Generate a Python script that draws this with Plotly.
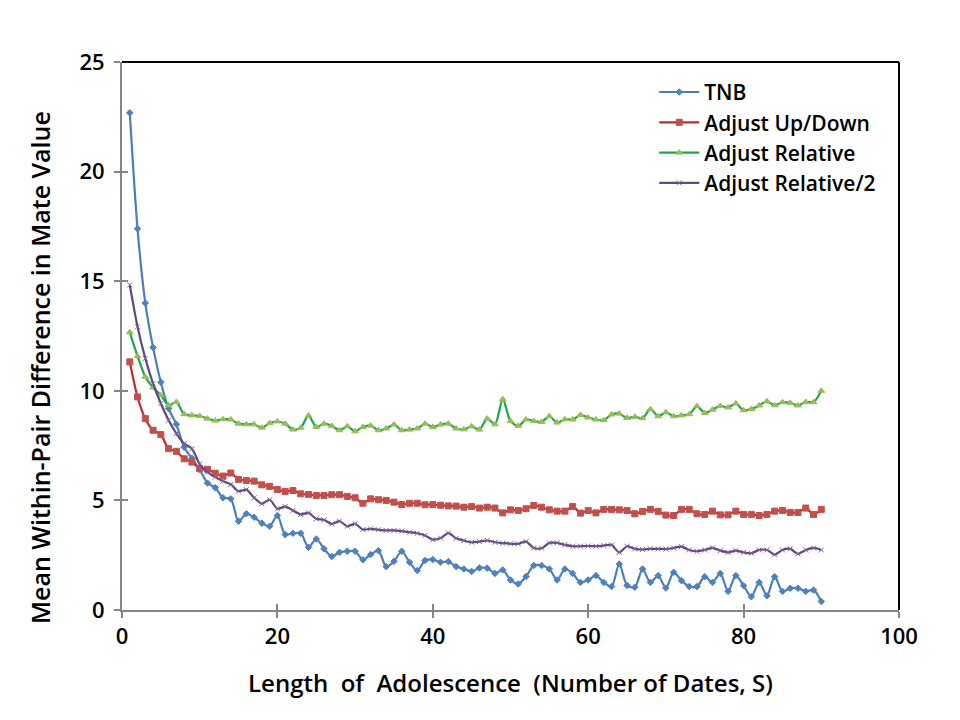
import plotly.graph_objects as go

x_dates = list(range(1, 91))

tnb = [22.68, 17.39, 14.00, 11.98, 10.39, 9.19, 8.47, 7.43, 6.92, 6.40,
       5.79, 5.58, 5.12, 5.07, 4.05, 4.39, 4.23, 3.96, 3.82, 4.31,
       3.44, 3.50, 3.50, 2.86, 3.24, 2.79, 2.44, 2.63, 2.68, 2.68,
       2.29, 2.53, 2.71, 1.98, 2.22, 2.68, 2.18, 1.80, 2.26, 2.30,
       2.18, 2.21, 1.98, 1.87, 1.76, 1.92, 1.91, 1.67, 1.83, 1.37,
       1.19, 1.53, 2.03, 2.03, 1.87, 1.37, 1.87, 1.67, 1.26, 1.37,
       1.57, 1.26, 1.07, 2.10, 1.12, 1.04, 1.87, 1.26, 1.57, 1.00,
       1.72, 1.34, 1.07, 1.07, 1.52, 1.26, 1.67, 0.85, 1.57, 1.11,
       0.61, 1.26, 0.65, 1.52, 0.85, 0.99, 0.99, 0.85, 0.91, 0.39]

adjust_updown = [11.32, 9.72, 8.73, 8.20, 8.00, 7.36, 7.24, 6.90, 6.75, 6.45,
                 6.42, 6.24, 6.11, 6.25, 5.96, 5.91, 5.88, 5.71, 5.64, 5.50,
                 5.41, 5.45, 5.30, 5.27, 5.23, 5.23, 5.26, 5.26, 5.18, 5.12,
                 4.87, 5.07, 5.03, 5.00, 4.92, 4.81, 4.87, 4.87, 4.80, 4.81,
                 4.78, 4.75, 4.74, 4.69, 4.72, 4.65, 4.69, 4.65, 4.43, 4.57,
                 4.54, 4.62, 4.77, 4.69, 4.57, 4.51, 4.51, 4.72, 4.42, 4.54,
                 4.43, 4.59, 4.59, 4.57, 4.54, 4.39, 4.50, 4.59, 4.50, 4.33,
                 4.31, 4.59, 4.59, 4.39, 4.36, 4.51, 4.34, 4.34, 4.51, 4.36,
                 4.36, 4.31, 4.36, 4.51, 4.54, 4.45, 4.45, 4.65, 4.36, 4.59]

adjust_relative = [12.67, 11.58, 10.64, 10.15, 9.80, 9.34, 9.49, 8.93, 8.88, 8.85,
                   8.73, 8.64, 8.70, 8.69, 8.50, 8.47, 8.47, 8.32, 8.53, 8.60,
                   8.50, 8.23, 8.32, 8.87, 8.35, 8.50, 8.40, 8.20, 8.38, 8.15,
                   8.35, 8.41, 8.20, 8.28, 8.46, 8.20, 8.23, 8.28, 8.50, 8.35,
                   8.46, 8.50, 8.28, 8.24, 8.38, 8.23, 8.73, 8.47, 9.62, 8.62,
                   8.40, 8.69, 8.62, 8.58, 8.84, 8.55, 8.70, 8.69, 8.90, 8.78,
                   8.69, 8.66, 8.92, 8.96, 8.76, 8.81, 8.75, 9.16, 8.84, 9.02,
                   8.84, 8.88, 8.93, 9.30, 8.99, 9.14, 9.31, 9.24, 9.42, 9.11,
                   9.17, 9.33, 9.52, 9.34, 9.48, 9.45, 9.33, 9.49, 9.48, 10.00]

adjust_relative_half = [14.83, 12.92, 11.48, 10.33, 9.42, 8.66, 8.05, 7.59, 7.36, 6.66,
                        6.29, 6.06, 5.88, 5.73, 5.42, 5.49, 5.12, 4.85, 5.03, 4.62,
                        4.72, 4.54, 4.36, 4.43, 4.16, 4.11, 3.93, 4.05, 3.82, 3.93,
                        3.67, 3.70, 3.66, 3.63, 3.63, 3.60, 3.55, 3.50, 3.40, 3.21,
                        3.28, 3.51, 3.27, 3.17, 3.09, 3.12, 3.17, 3.09, 3.05, 3.02,
                        3.02, 3.12, 2.83, 2.82, 3.06, 3.06, 2.97, 2.91, 2.91, 2.92,
                        2.91, 2.94, 2.97, 2.63, 2.91, 2.79, 2.76, 2.79, 2.79, 2.78,
                        2.83, 2.89, 2.74, 2.68, 2.74, 2.83, 2.71, 2.63, 2.71, 2.63,
                        2.59, 2.74, 2.74, 2.53, 2.74, 2.79, 2.56, 2.74, 2.83, 2.74]

x_ticks = [0, 20, 40, 60, 80, 100]
y_ticks = [0, 5, 10, 15, 20, 25]

FONT = "Open Sans"

series = [
    ("TNB", tnb, "#4A7EBB", "#4F81BD", "diamond", 5),
    ("Adjust Up/Down", adjust_updown, "#BE2B30", "#C0504D", "square", 6),
    ("Adjust Relative", adjust_relative, "#1BA84A", "#9BBB59", "triangle-up", 6),
    ("Adjust Relative/2", adjust_relative_half, "#5E4A7C", "#8064A2", "x-thin-open", 5),
]

fig = go.Figure()
for name, vals, lc, mc, sym, ms in series:
    fig.add_trace(go.Scatter(
        x=x_dates, y=vals, name=name, mode="lines+markers",
        line=dict(color=lc, width=2.2, shape="spline", smoothing=0.8),
        marker=dict(color=mc, symbol=sym, size=ms, line=dict(color=mc, width=1)),
    ))

axis_common = dict(showgrid=False, zeroline=False, showline=True,
                   linecolor="#868686", linewidth=2, ticks="outside",
                   ticklen=6, tickwidth=2, tickcolor="#868686", automargin=False,
                   tickfont=dict(family=FONT, size=22, color="black", weight=600))

fig.update_xaxes(range=[0, 100], tickvals=x_ticks, **axis_common,
                 title=dict(text="Length\u00a0\u00a0of\u00a0\u00a0Adolescence\u00a0\u00a0(Number of Dates, S)",
                            font=dict(family=FONT, size=24, color="black", weight=600), standoff=26))
fig.update_yaxes(range=[0, 25], tickvals=y_ticks, ticklabelstandoff=5, **axis_common)

# y-axis title (placed slightly below centre, as in the original)
fig.add_annotation(text="Mean Within-Pair Difference in Mate Value",
                   xref="paper", yref="paper", x=-0.1055, y=0.4416,
                   xanchor="center", yanchor="middle", textangle=-90, showarrow=False,
                   font=dict(family=FONT, size=25, color="black", weight=600))

# inside halves of the crossing tick marks
fig.update_layout(
    xaxis2=dict(overlaying="x", matches="x", range=[0, 100], tickvals=x_ticks,
                ticks="inside", ticklen=6, tickwidth=2, tickcolor="#868686",
                showticklabels=False, showgrid=False, zeroline=False, showline=False,
                side="bottom", anchor="y"),
    yaxis2=dict(overlaying="y", matches="y", range=[0, 25], tickvals=y_ticks,
                ticks="inside", ticklen=6, tickwidth=2, tickcolor="#868686",
                showticklabels=False, showgrid=False, zeroline=False, showline=False,
                side="left", anchor="x"),
)
fig.add_trace(go.Scatter(x=[None], y=[None], xaxis="x2", yaxis="y2", showlegend=False,
                         hoverinfo="skip"))

# black frame on top and right of the plot area
fig.add_shape(type="line", xref="x domain", yref="y domain", x0=0, x1=1, y0=1, y1=1,
              line=dict(color="black", width=2))
fig.add_shape(type="line", xref="x domain", yref="y domain", x0=1, x1=1, y0=0, y1=1,
              line=dict(color="black", width=2))

fig.update_layout(
    width=952, height=712,
    margin=dict(l=114, r=61, t=54, b=110),
    paper_bgcolor="white", plot_bgcolor="white",
    font=dict(family=FONT, size=22, color="black"),
    legend=dict(x=0.685, y=0.982, xanchor="left", yanchor="top",
                bgcolor="rgba(0,0,0,0)",
                font=dict(family=FONT, size=21, color="black", weight=600),
                itemwidth=40, tracegroupgap=0),
    showlegend=True,
)

fig.write_html("out.html")
